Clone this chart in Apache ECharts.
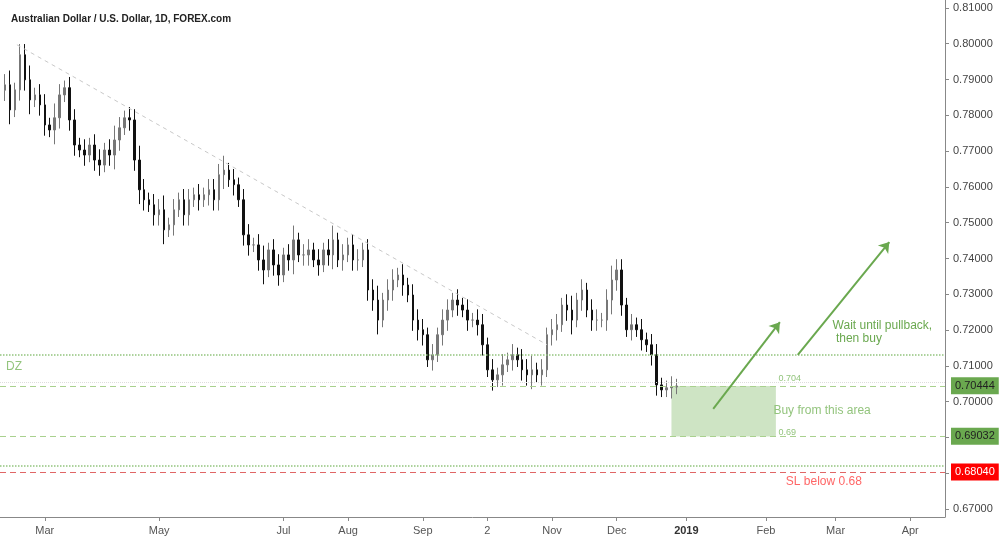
<!DOCTYPE html>
<html><head><meta charset="utf-8">
<script src="https://cdn.jsdelivr.net/npm/echarts@6/dist/echarts.min.js"></script>
<style>html,body{margin:0;padding:0;background:#fff}#c{width:1000px;height:540px}</style>
</head><body><div id="c"></div>
<script>
const closes = [.7885,.7815,.7871,.7969,.7899,.7843,.7857,.7829,.7773,.7759,.7793,.7857,.7877,.7787,.7717,.7703,.7689,.7717,.7675,.7661,.7703,.7689,.7731,.7765,.7793,.7787,.7675,.7592,.7564,.7550,.7522,.7536,.7480,.7494,.7536,.7564,.7522,.7564,.7578,.7564,.7578,.7592,.7564,.7634,.7647,.7620,.7606,.7564,.7466,.7438,.7438,.7396,.7368,.7424,.7382,.7354,.7410,.7396,.7452,.7410,.7410,.7424,.7396,.7382,.7424,.7410,.7452,.7396,.7410,.7438,.7396,.7396,.7424,.7312,.7284,.7228,.7284,.7312,.7340,.7354,.7326,.7298,.7228,.7201,.7187,.7117,.7131,.7187,.7228,.7256,.7284,.7270,.7256,.7228,.7228,.7215,.7159,.7089,.7061,.7075,.7103,.7117,.7131,.7117,.7089,.7075,.7089,.7075,.7089,.7187,.7201,.7215,.7270,.7256,.7228,.7284,.7312,.7256,.7228,.7228,.7228,.7284,.7340,.7368,.7270,.7201,.7215,.7201,.7173,.7159,.7131,.7047,.7033,.7039,.7041,.7044];
const firstOpen = .7870;
const wicks = [3,4,2,3,3,4,2,3,3,2,4,3,2,3,3,2,3,2,3,3,2,3,4,3,2,3,3,4,3,2,3,3,4,2,3,2,3,3,2,3,2,3,3,3,4,2,3,2,3,3,2,3,4,2,3,3,2,3,4,2,3,3,2,3,2,3,4,2,3,2,3,3,2,3,3,4,2,3,3,2,3,2,3,3,3,2,3,2,3,3,2,3,2,3,2,3,3,2,3,2,3,2,3,2,3,3,4,2,3,2,3,3,2,3,4,2,3,2,3,3,2,3,4,3,3,2,3,2,3,2,3,3,2,2,3,2,2];
const totalSlots = 189;
const tickIdx = [8,31,56,69,84,97,110,123,137,153,167,182];
const tickLabels = ['Mar','May','Jul','Aug','Sep','2','Nov','Dec','2019','Feb','Mar','Apr'];
const yTicks = [0.67,0.68,0.69,0.70,0.71,0.72,0.73,0.74,0.75,0.76,0.77,0.78,0.79,0.80,0.81];
const priceTags = [{v:0.70444,bg:'#6aa84f',t:'0.70444'},{v:0.69032,bg:'#6aa84f',t:'0.69032'},{v:0.68040,bg:'#ff0000',t:'0.68040'}];
const zoneTop = 0.7044, zoneBot = 0.6903, zoneX = [134,155];

const data = closes.map((c,i)=>{
  const o = i===0?firstOpen:closes[i-1];
  const w = wicks[i]/1000;
  return [i,o,c,Math.min(o,c)-w,Math.max(o,c)+w];
});
const hl = (v,color,type,w)=>({yAxis:v,lineStyle:{color,type,width:w||1},label:{show:false},symbol:'none'});
const ch = echarts.init(document.getElementById('c'));
ch.setOption({
  animation:false,
  title:{text:'Australian Dollar / U.S. Dollar, 1D, FOREX.com',left:6,top:9,textStyle:{fontSize:10,fontWeight:'bold',color:'#222',fontFamily:'Liberation Sans'}},
  grid:{left:0,right:55,top:0,bottom:23},
  xAxis:{type:'value',min:-1,max:totalSlots,
    axisLine:{show:true,onZero:false,lineStyle:{color:'#888'}},splitLine:{show:false},
    axisTick:{show:true,customValues:tickIdx,lineStyle:{color:'#888'},length:4},
    axisLabel:{customValues:tickIdx,fontSize:11,color:'#555',margin:8,
      formatter:v=>{const k=tickIdx.indexOf(Math.round(v));const s=k<0?'':tickLabels[k];return s==='2019'?'{b|2019}':s;},
      rich:{b:{fontWeight:'bold',fontSize:11,color:'#333'}}}},
  yAxis:{type:'value',position:'right',min:0.6678,max:0.8122,scale:true,
    axisLine:{show:true,onZero:false,lineStyle:{color:'#888'}},axisTick:{show:true,length:4,customValues:yTicks,lineStyle:{color:'#888'}},splitLine:{show:false},
    axisLabel:{fontSize:11,color:'#444',customValues:yTicks,formatter:v=>v.toFixed(5)}},
  series:[{type:'candlestick',data:data,encode:{x:0,y:[1,2,3,4]},barWidth:2,
    itemStyle:{color:'#777',color0:'#111',borderColor:'#777',borderColor0:'#111',borderWidth:1},
    markArea:{silent:true,itemStyle:{color:'rgba(147,196,125,0.45)'},data:[[{coord:[zoneX[0],zoneTop]},{coord:[zoneX[1],zoneBot]}]]},
    markLine:{silent:true,symbol:'none',precision:5,data:[
      hl(0.7131,'#93c47d','dotted',1.5),
      hl(0.7055,'#ddd','dotted',1),
      hl(0.6821,'#93c47d','dotted',1.5),
      ...priceTags.map(p=>({yAxis:p.v,symbol:'none',lineStyle:{color:p.bg==='#ff0000'?'#e06666':'#a9d18e',type:[6,4],width:1},
        label:{show:true,position:'end',formatter:p.t,backgroundColor:p.bg,color:p.bg==='#ff0000'?'#fff':'#222',fontSize:11,padding:[3,4,3,4],distance:6}})),
      [{coord:[2.4,0.7997],symbol:'none',lineStyle:{color:'#c8c8c8',type:[4,4],width:1}},{coord:[109,0.7159],symbol:'none'}],
      [{coord:[142.4,0.6980],symbol:'none',lineStyle:{color:'#6aa84f',type:'solid',width:2}},{coord:[155.8,0.7222],symbol:'arrow',symbolSize:10}],
      [{coord:[159.4,0.7131],symbol:'none',lineStyle:{color:'#6aa84f',type:'solid',width:2}},{coord:[177.8,0.7446],symbol:'arrow',symbolSize:10}]
    ]},
    markPoint:{silent:true,symbol:'circle',symbolSize:0,data:[
      {coord:[155.5,0.7066],label:{formatter:'0.704',color:'#93c47d',fontSize:9,position:'right',distance:0}},
      {coord:[154.5,0.6976],label:{formatter:'Buy from this area',color:'#93c47d',fontSize:12,position:'right',distance:0}},
      {coord:[155.5,0.6914],label:{formatter:'0.69',color:'#93c47d',fontSize:9,position:'right',distance:0}},
      {coord:[157,0.6777],label:{formatter:'SL below 0.68',color:'#ff6666',fontSize:12,position:'right',distance:0}},
      {coord:[166.4,0.7195],label:{formatter:'Wait until pullback,\n then buy',color:'#6aa84f',fontSize:12,position:'right',distance:0,align:'left',lineHeight:13}},
      {coord:[0.2,0.7097],label:{formatter:'DZ',color:'#93c47d',fontSize:12,position:'right',distance:0}}
    ]}
  }]
});
</script></body></html>
